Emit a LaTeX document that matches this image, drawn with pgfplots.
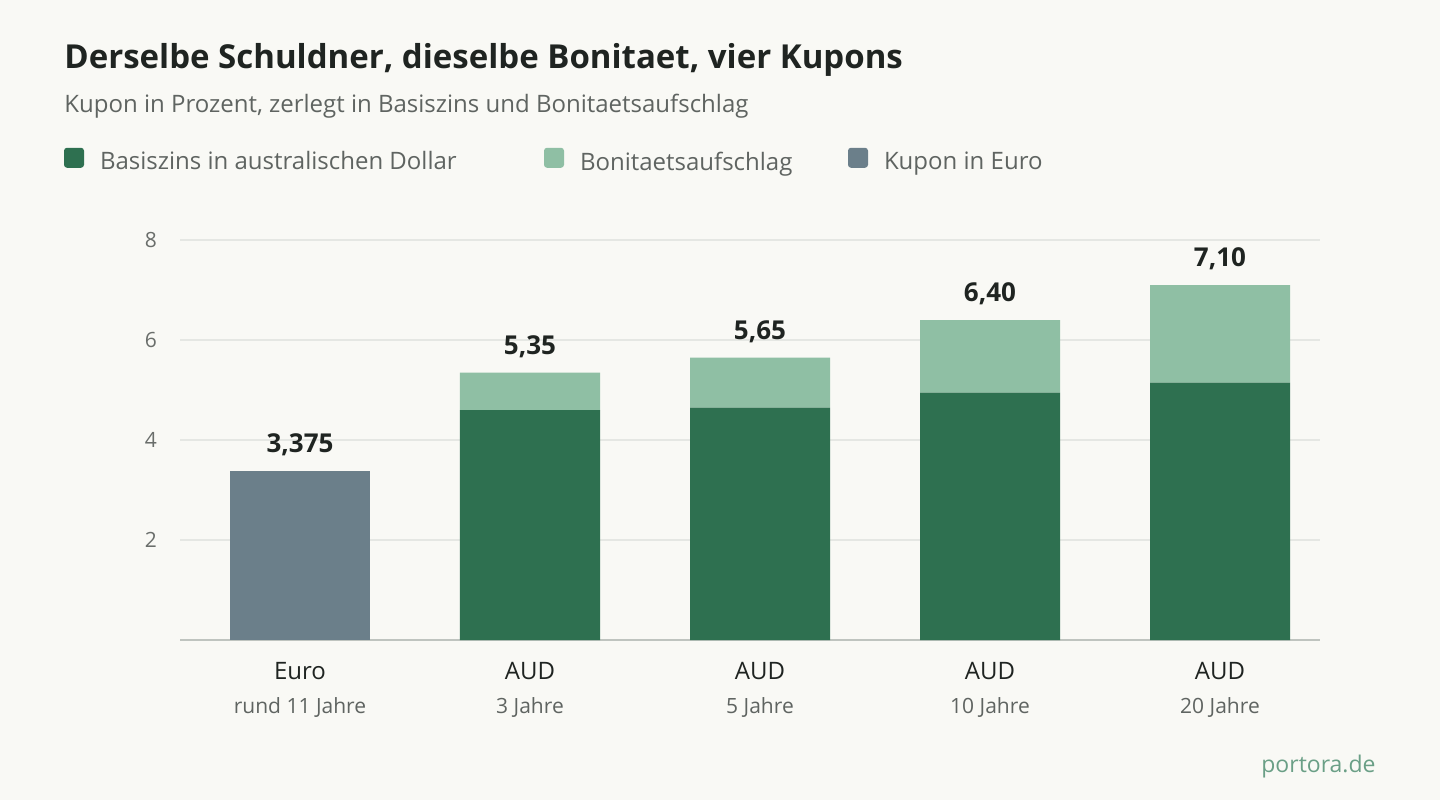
\documentclass[border=0pt]{standalone}
\usepackage{fontspec}
\setmainfont{Open Sans}
\usepackage{pgfplots}
\pgfplotsset{compat=1.18}

\definecolor{bg}{HTML}{F9F9F5}
\definecolor{titlecol}{HTML}{1F2421}
\definecolor{subgray}{HTML}{5F6461}
\definecolor{tickgray}{HTML}{6A6E6B}
\definecolor{gridcol}{HTML}{E5E7E3}
\definecolor{axiscol}{HTML}{BFC4BF}
\definecolor{darkgreen}{HTML}{2E7050}
\definecolor{lightgreen}{HTML}{8FBFA4}
\definecolor{slate}{HTML}{6B7F8A}
\definecolor{brand}{HTML}{6A9F86}

\newcommand\sub[1]{{\fontsize{10.5}{12}\selectfont\color{subgray}#1}}

\begin{document}
\begin{tikzpicture}[x=1pt,y=1pt]
\fill[bg] (0,0) rectangle (720,400);
\path[use as bounding box] (0,0) rectangle (720,400);

\node[anchor=base west, inner sep=0pt, text=titlecol,
      font=\fontsize{16.5}{19}\selectfont\bfseries] at (32,366)
      {Derselbe Schuldner, dieselbe Bonitaet, vier Kupons};
\node[anchor=base west, inner sep=0pt, text=subgray,
      font=\fontsize{12}{14}\selectfont] at (32,344)
      {Kupon in Prozent, zerlegt in Basiszins und Bonitaetsaufschlag};
\node[anchor=base east, inner sep=0pt, text=brand,
      font=\fontsize{11.5}{13}\selectfont] at (688,14) {portora.de};

\begin{axis}[
    at={(90pt,80pt)}, anchor=south west,
    scale only axis, width=570pt, height=200pt,
    ybar stacked, bar width=70pt,
    xmin=-0.5217, xmax=4.4348,
    ymin=0, ymax=8,
    clip=false,
    axis x line*=bottom, axis y line*=left,
    x axis line style={draw=axiscol, line width=1pt},
    y axis line style={draw=none},
    xtick={0,1,2,3,4},
    xticklabels={
        {Euro\\[1pt]\sub{rund 11 Jahre}},
        {AUD\\[1pt]\sub{3 Jahre}},
        {AUD\\[1pt]\sub{5 Jahre}},
        {AUD\\[1pt]\sub{10 Jahre}},
        {AUD\\[1pt]\sub{20 Jahre}}},
    xticklabel style={align=center, text=titlecol,
        font=\fontsize{12}{16}\selectfont, yshift=-7.5pt},
    ytick={2,4,6,8},
    yticklabel style={text=tickgray, font=\fontsize{10.5}{12}\selectfont, xshift=-8pt},
    /pgf/number format/assume math mode=true,
    major tick length=0pt,
    ymajorgrids=true,
    major grid style={draw=gridcol, line width=1pt},
    legend columns=3,
    legend style={at={(-0.10175,1.199)}, anchor=west, draw=none, fill=none,
        inner sep=0pt, outer sep=0pt, nodes={inner sep=0pt},
        font=\fontsize{12}{14}\selectfont, text=subgray,
        /tikz/every odd column/.style={column sep=8pt},
        /tikz/every even column/.style={column sep=0pt}},
    legend image code/.code={
        \fill[#1, draw=none, rounded corners=1.5pt] (0pt,-2.7pt) rectangle (10pt,7.3pt);},
]
\addplot[fill=darkgreen, draw=none] coordinates {(0,0) (1,4.60) (2,4.65) (3,4.95) (4,5.15)};
\addlegendentry{\makebox[222pt][l]{Basiszins in australischen Dollar}}
\addplot[fill=lightgreen, draw=none] coordinates {(0,0) (1,0.75) (2,1.00) (3,1.45) (4,1.95)};
\addlegendentry{\makebox[134pt][l]{Bonitaetsaufschlag}}
\addplot[fill=slate, draw=none] coordinates {(0,3.375) (1,0) (2,0) (3,0) (4,0)};
\addlegendentry{Kupon in Euro}

\node[anchor=south, yshift=4pt, font=\fontsize{13}{15}\selectfont\bfseries, text=titlecol] at (axis cs:0,3.375) {3,375};
\node[anchor=south, yshift=4pt, font=\fontsize{13}{15}\selectfont\bfseries, text=titlecol] at (axis cs:1,5.35) {5,35};
\node[anchor=south, yshift=4pt, font=\fontsize{13}{15}\selectfont\bfseries, text=titlecol] at (axis cs:2,5.65) {5,65};
\node[anchor=south, yshift=4pt, font=\fontsize{13}{15}\selectfont\bfseries, text=titlecol] at (axis cs:3,6.40) {6,40};
\node[anchor=south, yshift=4pt, font=\fontsize{13}{15}\selectfont\bfseries, text=titlecol] at (axis cs:4,7.10) {7,10};
\end{axis}
\end{tikzpicture}
\end{document}
